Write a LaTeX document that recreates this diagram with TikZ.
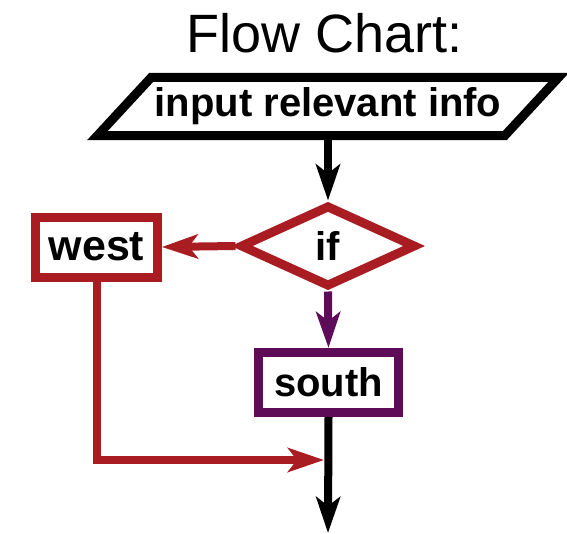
\documentclass[tikz,border=0pt]{standalone}
\usepackage{fontspec}
\setmainfont{Liberation Sans}
\usetikzlibrary{shapes.geometric,arrows.meta}
\definecolor{fcred}{RGB}{169,29,34}
\definecolor{fcpurple}{RGB}{94,12,87}
\begin{document}
\begin{tikzpicture}[x=1pt,y=-1pt,line join=miter,
  lbl/.style={font=\bfseries\fontsize{40}{48}\selectfont, inner sep=0pt},
  boxnode/.style={lbl, draw, rectangle, line width=9pt},
  tip/.style={-{Stealth[length=36pt,width=24pt,inset=9pt]}},
  conn/.style={line width=8pt, tip}]
\useasboundingbox (0,0) rectangle (567,533);
\node[font=\fontsize{54}{60}\selectfont, anchor=base, inner sep=0pt] (title) at (325,52) {Flow Chart:};
\node[lbl, minimum width=407pt, minimum height=58pt] (in) at (328,106.5) {input relevant info};
\draw[line width=9pt] ([xshift=-27pt]in.south west) -- ([xshift=-27pt]in.south east)
  -- ([xshift=27pt]in.north east) -- ([xshift=27pt]in.north west) -- cycle;
\node[lbl, diamond, draw=fcred, line width=9pt, minimum width=176pt, minimum height=82pt] (if) at (328,246) {if};
\node[boxnode, draw=fcred, minimum width=121.5pt, minimum height=60pt, font=\bfseries\fontsize{43}{50}\selectfont] (west) at (96.5,247) {west};
\node[boxnode, draw=fcpurple, minimum width=140pt, minimum height=60pt] (south) at (328.5,382.5) {south};
\coordinate (join) at (324,460);
\coordinate (end) at (328,533);
\draw[conn, black] (in.south) -- (if.north);
\draw[conn, fcred] (if.west) -- (west.east);
\draw[conn, fcpurple] (if.south) -- (south.north);
\draw[conn, black] (south.south) -- (end);
\draw[conn, fcred] (west.south) |- (join);
\end{tikzpicture}
\end{document}
